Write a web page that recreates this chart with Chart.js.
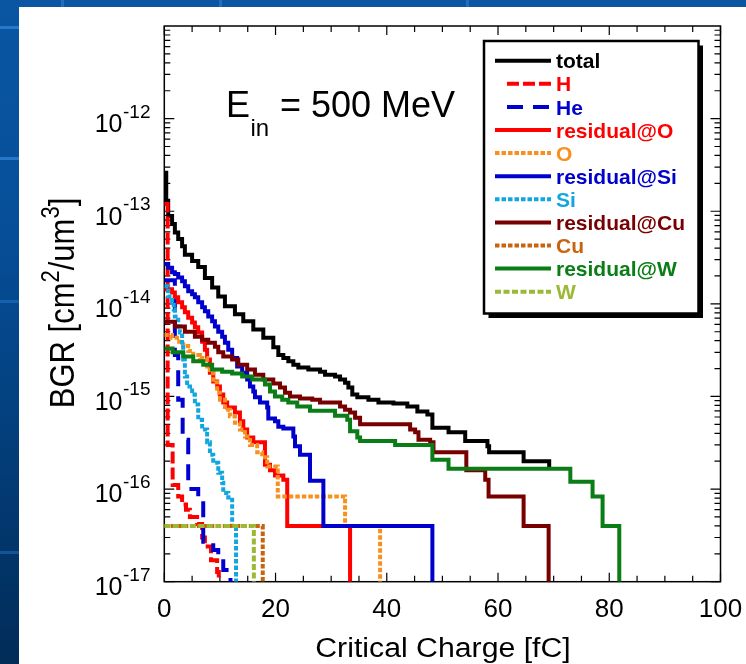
<!DOCTYPE html>
<html><head><meta charset="utf-8">
<script src="https://cdn.jsdelivr.net/npm/chart.js@4.4.1/dist/chart.umd.min.js"></script>
<style>
html,body{margin:0;padding:0;width:746px;height:664px;overflow:hidden;}
body{background:linear-gradient(180deg,#0a56a3 0%,#064e98 35%,#033f7c 65%,#012c58 100%);position:relative;}
#panel{position:absolute;left:19px;top:7px;width:727px;height:657px;background:#fff;}
.seam{position:absolute;left:0;width:19px;height:3px;background:#2f86d6;opacity:.75}
.vseam{position:absolute;top:0;width:3px;height:7px;background:#2f86d6;opacity:.5}
#c{position:absolute;left:0;top:0;}
</style></head><body>
<div class="seam" style="top:26px"></div>
<div class="seam" style="top:157px"></div>
<div class="seam" style="top:300px;opacity:.4"></div>
<div class="seam" style="top:551px;opacity:.4"></div>
<div class="vseam" style="left:61px"></div>
<div class="vseam" style="left:219px"></div>
<div class="vseam" style="left:466px"></div>
<div id="panel"></div>
<canvas id="c" width="746" height="664"></canvas>
<script>
// ---------- data (critical charge in fC, BGR in cm^2/um^3) ----------
const seriesNames = ['total','H','He','residual@O','O','residual@Si','Si','residual@Cu','Cu','residual@W','W'];

const totalQ = [0,0.35,0.7,1.4,1.9,2.5,3.2,3.7,5.0,6.1,7.3,8.6,9.7,10.9,12.7,14.2,16.0,17.8,19.6,20.5,21.4,22.3,23.2,24.1,25.9,28.0,28.9,30.7,31.6,32.5,33.1,33.8,34.7,36.7,38.5,41.2,43.7,45.5,47.3,48.2,51.1,54.1,58.1,58.4,64.6,69.2];
const totalBGR = [2.6e-13,1.3e-13,8.9e-14,7.3e-14,5.9e-14,5.0e-14,4.2e-14,3.4e-14,2.9e-14,2.5e-14,1.9e-14,1.5e-14,1.2e-14,9.4e-15,7.7e-15,6.5e-15,5.3e-15,4.3e-15,3.4e-15,2.8e-15,2.6e-15,2.4e-15,2.2e-15,2.05e-15,1.95e-15,1.85e-15,1.72e-15,1.64e-15,1.52e-15,1.41e-15,1.25e-15,1.05e-15,9.8e-16,9.2e-16,8.6e-16,8.4e-16,7.8e-16,6.9e-16,6.4e-16,4.6e-16,4.1e-16,3.3e-16,2.9e-16,2.5e-16,2.0e-16,1.7e-16];

const hQ = [0,0.6,1.5,2.5,3.2,3.9,4.6,5.9,6.8,7.3,8.4,9.5,9.8];
const hBGR = [1.2e-13,3.0e-16,1.11e-16,8.3e-17,6.8e-17,6.0e-17,5.0e-17,4.2e-17,3.0e-17,2.4e-17,1.7e-17,1.27e-17,1e-17];

const heQ = [0,1.9,2.5,3.3,4.3,6.1,7.0,8.8,9.7,10.6,11.9];
const heBGR = [1.8e-14,2.8e-15,9.2e-16,3.4e-16,1.0e-16,7.7e-17,2.7e-17,2.2e-17,1.9e-17,1.34e-17,1e-17];

const resOQ = [0,1.4,1.9,2.5,3.2,3.7,4.3,5.0,5.5,6.1,6.8,7.3,7.7,8.2,8.8,9.5,10.0,10.6,11.3,12.7,13.6,14.2,14.9,16.0,18.1,19.0,19.9,21.4,22.1,33.4];
const resOBGR = [1.44e-14,1.33e-14,1.18e-14,1.04e-14,9.2e-15,8.1e-15,7.1e-15,6.3e-15,5.6e-15,4.9e-15,3.9e-15,3.2e-15,2.5e-15,1.8e-15,1.45e-15,1.28e-15,1.05e-15,8.6e-16,7.6e-16,6.7e-16,5.4e-16,4.4e-16,3.6e-16,3.2e-16,1.83e-16,1.6e-16,1.4e-16,1.26e-16,4.0e-17,1e-17];

const oQ = [0,1.4,2.3,3.4,4.3,5.2,6.4,7.7,8.2,8.8,9.5,10.0,10.9,11.8,12.7,13.6,14.5,15.4,16.7,17.6,18.5,20.4,32.5,38.8];
const oBGR = [4.6e-15,4.3e-15,3.9e-15,3.5e-15,3.1e-15,2.8e-15,2.6e-15,2.1e-15,1.8e-15,1.42e-15,1.1e-15,9.2e-16,7.2e-16,6.1e-16,5.2e-16,4.4e-16,3.7e-16,3.0e-16,2.5e-16,2.2e-16,1.75e-16,8.3e-17,4.0e-17,1e-17];

const resSiQ = [0,0.7,1.4,1.9,2.5,3.2,3.7,4.3,5.0,5.5,6.1,6.8,7.3,7.9,8.6,9.1,9.7,10.4,10.9,11.5,12.2,13.1,14.0,14.9,15.4,16.0,16.3,17.2,18.5,18.7,19.9,20.5,21.4,23.2,23.5,24.4,26.2,28.6,48.2];
const resSiBGR = [2.7e-14,2.45e-14,2.2e-14,2.1e-14,1.93e-14,1.75e-14,1.55e-14,1.37e-14,1.27e-14,1.18e-14,1.04e-14,9.2e-15,8.3e-15,7.3e-15,6.5e-15,5.7e-15,5.0e-15,4.4e-15,3.8e-15,3.2e-15,2.6e-15,2.1e-15,1.8e-15,1.52e-15,1.28e-15,1.13e-15,9.8e-16,8.6e-16,7.6e-16,5.8e-16,5.4e-16,4.7e-16,4.5e-16,3.7e-16,2.9e-16,2.35e-16,1.23e-16,4.0e-17,1e-17];

const siQ = [0,0.7,1.4,1.7,1.9,2.5,2.8,3.2,3.4,3.7,4.1,5.0,5.5,6.1,6.8,7.7,8.2,8.8,9.7,10.4,10.6,11.5,12.2,12.9];
const siBGR = [1.55e-14,1.2e-14,1.04e-14,8.7e-15,7.3e-15,5.7e-15,4.9e-15,3.6e-15,2.5e-15,1.64e-15,1.28e-15,1.05e-15,8.2e-16,5.6e-16,4.4e-16,3.2e-16,2.35e-16,1.92e-16,1.5e-16,1.17e-16,9.1e-17,8.1e-17,4.0e-17,1e-17];

const resCuQ = [0,1.9,3.7,5.5,6.8,7.9,9.1,9.7,10.6,12.2,13.3,14.9,16.3,17.8,19.6,20.8,21.7,22.6,24.4,26.6,28.0,31.6,32.5,33.4,34.3,35.2,44.2,45.1,45.7,47.8,48.4,54.3,57.7,58.3,64.6,69.1];
const resCuBGR = [6.4e-15,5.7e-15,5.0e-15,4.4e-15,4.1e-15,3.8e-15,3.45e-15,3.0e-15,2.7e-15,2.5e-15,2.2e-15,1.95e-15,1.72e-15,1.52e-15,1.38e-15,1.25e-15,1.1e-15,1.0e-15,9.5e-16,9.2e-16,8.6e-16,7.8e-16,7.2e-16,6.7e-16,5.9e-16,5.0e-16,4.4e-16,4.1e-16,3.4e-16,3.2e-16,2.5e-16,1.6e-16,1.26e-16,8.3e-17,4.0e-17,1e-17];

const cuQ = [0,17.7];
const cuBGR = [4.0e-17,1e-17];

const resWQ = [0,1.5,3.4,5.2,7.0,8.6,10.4,12.2,14.0,15.8,18.1,19.0,19.9,21.2,22.3,23.9,26.2,30.7,32.9,33.4,34.7,35.2,41.5,48.2,51.1,73.0,77.0,78.8,81.8];
const resWBGR = [3.3e-15,3.0e-15,2.7e-15,2.4e-15,2.2e-15,1.95e-15,1.85e-15,1.77e-15,1.64e-15,1.52e-15,1.35e-15,1.13e-15,1.0e-15,9.2e-16,8.6e-16,7.8e-16,7.0e-16,6.2e-16,5.6e-16,4.2e-16,3.6e-16,3.3e-16,3.0e-16,2.07e-16,1.66e-16,1.2e-16,8.3e-17,4.0e-17,1e-17];

const wQ = [0,16.1];
const wBGR = [4.0e-17,1e-17];

const xTicks = [0,20,40,60,80,100];
const yExponents = [-17,-16,-15,-14,-13,-12];

// ---------- styles ----------
const FONT = '"Liberation Sans", Arial, Helvetica, sans-serif';
const styles = [
  {c:'#000000', w:4, dash:[]},
  {c:'#ff0000', w:4, dash:[12,4]},
  {c:'#0000d0', w:4, dash:[16,10]},
  {c:'#ff0000', w:4, dash:[]},
  {c:'#f7901e', w:4, dash:[4.5,2]},
  {c:'#0000cc', w:4, dash:[]},
  {c:'#12a6e0', w:4, dash:[4.5,2]},
  {c:'#780000', w:4, dash:[]},
  {c:'#c8640c', w:4, dash:[4.5,2]},
  {c:'#0a7d16', w:4, dash:[]},
  {c:'#9cb936', w:4, dash:[6,2.5]}
];
const seriesQ = [totalQ,hQ,heQ,resOQ,oQ,resSiQ,siQ,resCuQ,cuQ,resWQ,wQ];
const seriesB = [totalBGR,hBGR,heBGR,resOBGR,oBGR,resSiBGR,siBGR,resCuBGR,cuBGR,resWBGR,wBGR];

const datasets = seriesNames.map((name,i)=>({
  label:name,
  data: seriesQ[i].map((q,j)=>({x:q,y:seriesB[i][j]})),
  borderColor:styles[i].c,
  borderWidth:styles[i].w,
  borderDash:styles[i].dash,
  borderCapStyle:'butt',
  borderJoinStyle:'miter',
  stepped:'before',
  pointRadius:0,
  fill:false,
  order: seriesNames.length - i
}));

function segW(ctx,s){ctx.font=(s.bold?'bold ':'')+s.size+'px '+FONT;return ctx.measureText(s.t).width;}
function drawRich(ctx,segs,x,y,align){
  let w=0; for(const s of segs) w+=segW(ctx,s);
  let cx = align==='center'? x-w/2 : (align==='right'? x-w : x);
  ctx.textAlign='left'; ctx.textBaseline='alphabetic';
  for(const s of segs){ const sw=segW(ctx,s); ctx.fillText(s.t,cx,y+(s.dy||0)); cx+=sw; }
}

const framePlugin = {
  id:'frame',
  beforeDatasetsDraw(chart){
    const {ctx,chartArea:a,scales:{x,y}} = chart;
    ctx.save();
    ctx.strokeStyle='#000'; ctx.lineWidth=1.5;
    ctx.strokeRect(a.left,a.top,a.right-a.left,a.bottom-a.top);
    ctx.lineWidth=1.2;
    ctx.beginPath();
    for(let v=0; v<=100; v+=5){
      const px=x.getPixelForValue(v); const L = (v%20===0)?9:6;
      ctx.moveTo(px,a.bottom); ctx.lineTo(px,a.bottom-L);
      ctx.moveTo(px,a.top); ctx.lineTo(px,a.top+L);
    }
    for(let d=-17; d<=-12; d++){
      for(let m=1; m<=9; m++){
        const v=m*Math.pow(10,d); const py=y.getPixelForValue(v); const L=(m===1)?10:6;
        ctx.moveTo(a.left,py); ctx.lineTo(a.left+L,py);
        ctx.moveTo(a.right,py); ctx.lineTo(a.right-L,py);
      }
    }
    ctx.stroke();
    ctx.restore();
  },
  afterDatasetsDraw(chart){
    const {ctx,chartArea:a,scales:{x,y}} = chart;
    ctx.save();
    ctx.fillStyle='#000';
    // y tick labels
    for(const e of yExponents){
      const py=y.getPixelForValue(Math.pow(10,e));
      ctx.font='25px '+FONT; ctx.textAlign='right'; ctx.textBaseline='alphabetic';
      ctx.fillText('10',122.5,py+13.3);
      ctx.font='19px '+FONT; ctx.textAlign='left';
      ctx.fillText(String(e),123,py-1);
    }
    // x tick labels
    ctx.font='26px '+FONT; ctx.textAlign='center';
    for(const v of xTicks){ ctx.fillText(String(v),x.getPixelForValue(v),617); }
    // x title
    ctx.save(); ctx.translate(443,657); ctx.scale(1.12,1);
    ctx.font='27px '+FONT; ctx.textAlign='center'; ctx.fillText('Critical Charge [fC]',0,0);
    ctx.restore();
    // y title
    ctx.save(); ctx.translate(74,303); ctx.scale(1.15,1); ctx.rotate(-Math.PI/2);
    drawRich(ctx,[{t:'BGR [cm',size:31},{t:'2',size:22,dy:-13},{t:'/um',size:31},{t:'3',size:22,dy:-13},{t:']',size:31}],0,0,'center');
    ctx.restore();
    // annotation
    ctx.font='36px '+FONT; ctx.textAlign='left';
    ctx.fillText('E',226,116.5);
    ctx.font='24px '+FONT; ctx.fillText('in',250.5,136);
    ctx.font='36px '+FONT; ctx.fillText('= 500 MeV',280,116.5);
    // legend
    const bx=484,by=41,bw=214.5,bh=272.5;
    ctx.fillStyle='#000'; ctx.fillRect(bx+4.5,by+4.5,bw,bh);
    ctx.fillStyle='#fff'; ctx.fillRect(bx,by,bw,bh);
    ctx.strokeStyle='#000'; ctx.lineWidth=2.5; ctx.strokeRect(bx,by,bw,bh);
    seriesNames.forEach((name,i)=>{
      const ly=60.7+i*23.1;
      const x0=(i===1||i===2)?507:495;
      ctx.beginPath(); ctx.setLineDash(styles[i].dash); ctx.lineCap='butt';
      ctx.strokeStyle=styles[i].c; ctx.lineWidth=4;
      ctx.moveTo(x0,ly); ctx.lineTo(551,ly); ctx.stroke();
      ctx.setLineDash([]);
      ctx.fillStyle=styles[i].c; ctx.font='bold 21px '+FONT; ctx.textAlign='left';
      ctx.fillText(name,556,ly+7.6);
    });
    ctx.restore();
  }
};

new Chart(document.getElementById('c').getContext('2d'),{
  type:'line',
  data:{datasets},
  options:{
    responsive:false, animation:false, devicePixelRatio:1,
    events:[],
    layout:{padding:{left:164.3,top:26,right:25.5,bottom:82.3}},
    scales:{
      x:{type:'linear',min:0,max:100,display:false},
      y:{type:'logarithmic',min:1e-17,max:1e-11,display:false}
    },
    plugins:{legend:{display:false},tooltip:{enabled:false},title:{display:false}}
  },
  plugins:[framePlugin]
});
</script>
</body></html>
